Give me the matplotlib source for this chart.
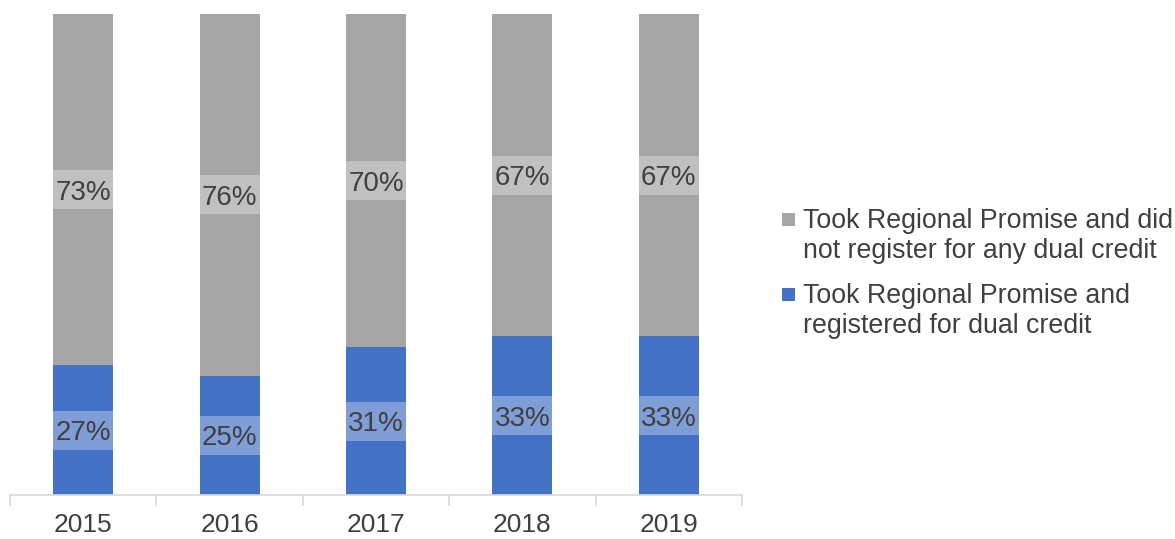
import numpy as np
import matplotlib
matplotlib.use("Agg")
import matplotlib.pyplot as plt
from matplotlib.patches import Rectangle

plt.rcParams['font.family'] = ['Liberation Sans', 'DejaVu Sans']

years = ["2015", "2016", "2017", "2018", "2019"]
registered = [27, 25, 31, 33, 33]
not_registered = [73, 76, 70, 67, 67]

label_registered = ["Took Regional Promise and", "registered for dual credit"]
label_not = ["Took Regional Promise and did", "not register for any dual credit"]

blue = "#4472C4"
gray = "#A5A5A5"
text_color = "#404040"

W, H = 1175, 539

reg = np.array(registered, dtype=float)
notr = np.array(not_registered, dtype=float)
total = reg + notr
reg_share = reg / total * 100
not_share = notr / total * 100

fig = plt.figure(figsize=(W / 100, H / 100), dpi=100)
ax = fig.add_axes([10 / W, 1 - 495 / H, 732 / W, 481 / H])

x = np.arange(len(years)) + 0.5
width = 0.41
ax.bar(x, reg_share, width, color=blue)
ax.bar(x, not_share, width, bottom=reg_share, color=gray)

# value labels on lighter bands spanning the bar width
box_h = 8.1
for xi, rs, ns, rv, nv in zip(x, reg_share, not_share, registered, not_registered):
    for yc, val, fc in ((rs / 2, rv, "#7F9DD6"), (rs + ns / 2, nv, "#C0C0C0")):
        ax.add_patch(Rectangle((xi - width / 2, yc - box_h / 2), width, box_h,
                               facecolor=fc, edgecolor="none", zorder=3))
        ax.text(xi, yc, f"{val}%", ha="center", va="center_baseline", fontsize=20,
                color=text_color, zorder=4)

ax.set_xlim(0, len(years))
ax.set_ylim(0, 100)
ax.set_yticks([])
ax.set_xticks(np.arange(len(years) + 1))
ax.set_xticklabels([])
ax.set_xticks(x, minor=True)
ax.set_xticklabels(years, minor=True, fontsize=19, color=text_color)
ax.tick_params(axis="x", which="major", length=8, color="#D9D9D9", width=1.2, direction="out")
ax.tick_params(axis="x", which="minor", length=0, pad=13)
for side in ("top", "right", "left"):
    ax.spines[side].set_visible(False)
ax.spines["bottom"].set_color("#D9D9D9")
ax.spines["bottom"].set_linewidth(1.2)

# legend: square swatch beside the first line of each entry
def px(xp, yp):
    return xp / W, 1 - yp / H

entries = [(gray, label_not, 228), (blue, label_registered, 303)]
for color, lines, baseline in entries:
    sx, sy = px(782, baseline - 2)
    fig.add_artist(Rectangle((sx, sy), 13 / W, 13 / H, transform=fig.transFigure,
                             facecolor=color, edgecolor="none"))
    for i, line in enumerate(lines):
        tx, ty = px(803, baseline + 30 * i)
        fig.text(tx, ty, line, ha="left", va="baseline", fontsize=19.3, color=text_color)

fig.savefig("out.png", dpi=100)
